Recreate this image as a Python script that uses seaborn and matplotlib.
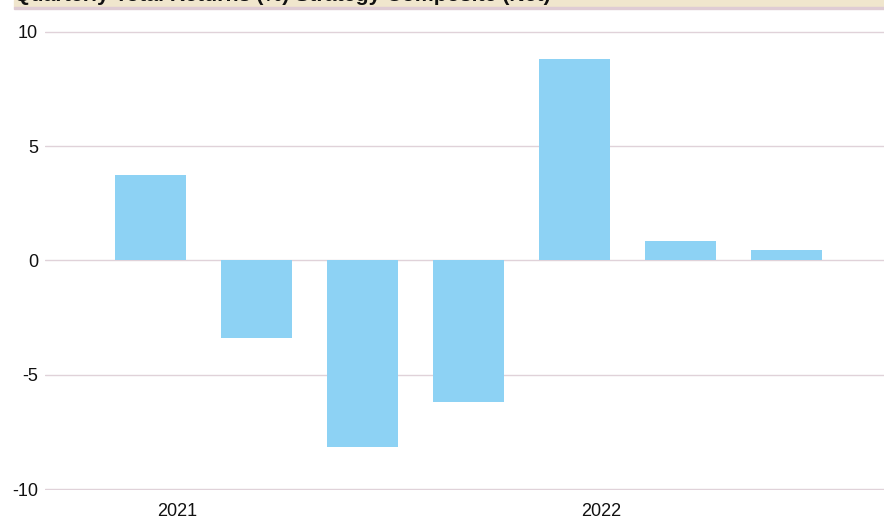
import matplotlib
matplotlib.use("Agg")
import matplotlib.pyplot as plt
from matplotlib import font_manager
from matplotlib.patches import Rectangle
import pandas as pd
import seaborn as sns

quarters = ["Q1 2021", "Q2 2021", "Q3 2021", "Q4 2021", "Q1 2022", "Q2 2022", "Q3 2022"]
returns = [3.72, -3.40, -8.18, -6.21, 8.80, 0.83, 0.44]
year_labels = ["2021", "2022"]
year_first_quarter = ["Q1 2021", "Q1 2022"]
y_ticks = [-10, -5, 0, 5, 10]
title = "Quarterly Total Returns (%) Strategy Composite (Net)"


def narrow_font():
    try:
        font_manager.findfont("Liberation Sans Narrow", fallback_to_default=False)
        return "Liberation Sans Narrow"
    except Exception:
        return "Liberation Sans"


def main():
    sns.set_theme(style="white")
    plt.rcParams['font.family'] = ['Liberation Sans', 'DejaVu Sans']

    df = pd.DataFrame({'Quarter': quarters, 'Return': returns})

    fig = plt.figure(figsize=(8.84, 5.17), dpi=100)
    # y range padded a little so the -10 / 10 gridlines are not clipped
    pad = 0.05
    px_per_unit = 457.3 / 20
    ax = fig.add_axes([45 / 884, (28 - pad * px_per_unit) / 517,
                       1 - 45 / 884, (457.3 + 2 * pad * px_per_unit) / 517])

    sns.barplot(data=df, x='Quarter', y='Return', ax=ax, color='#8dd2f4',
                saturation=1, width=0.67, linewidth=0, zorder=3)

    ax.set_ylim(-10 - pad, 10 + pad)
    ax.set_xlim(-1.0, 6.92)
    ax.set_yticks(y_ticks)
    ax.set_yticklabels([str(t) for t in y_ticks], fontsize=13, color='#111111')
    ax.yaxis.grid(True, color='#e0d2d9', linewidth=1.0, zorder=0)
    ax.set_axisbelow(True)

    xpos = [quarters.index(q) + 0.25 for q in year_first_quarter]
    ax.set_xticks(xpos)
    ax.set_xticklabels(year_labels, fontsize=13, family=narrow_font(), color='#111111')
    ax.tick_params(axis='x', length=0, pad=9)
    ax.tick_params(axis='y', length=0, pad=5)
    ax.set_xlabel("")
    ax.set_ylabel("")
    for s in ax.spines.values():
        s.set_visible(False)

    # title band at the top, mostly cut off
    fig.patches.append(Rectangle((14 / 884, 1 - 7 / 517), 1, 7 / 517,
                                 transform=fig.transFigure, color='#f0e6cd', zorder=0))
    fig.patches.append(Rectangle((14 / 884, 1 - 9 / 517), 1, 2 / 517,
                                 transform=fig.transFigure, color='#dfccd4', zorder=0))
    fig.text(14 / 884, 1 - 1.3 / 517, title, fontsize=15.3, fontweight='bold',
             va='baseline', ha='left', color='#111111')

    fig.savefig('out.png', dpi=100)
    plt.close(fig)


if __name__ == "__main__":
    main()
